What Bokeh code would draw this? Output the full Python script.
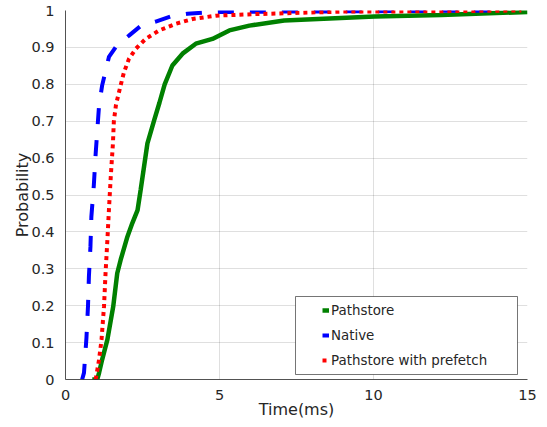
from bokeh.plotting import figure
from bokeh.models import (Range1d, FixedTicker, CustomJSTickFormatter, Legend,
                          LegendItem, BoxAnnotation)
from bokeh.embed import file_html
from bokeh.resources import INLINE

# ---- data ----
native_t = [0.54, 0.60, 0.68, 0.73, 0.76, 0.81, 0.84, 0.92, 0.98, 1.09, 1.19,
            1.41, 1.68, 2.06, 2.44, 2.93, 3.42, 3.96, 4.45, 5.0, 7.0, 10.0, 14.2]
native_p = [0.0, 0.018, 0.113, 0.198, 0.279, 0.36, 0.441, 0.527, 0.613, 0.743, 0.797,
            0.874, 0.907, 0.932, 0.958, 0.970, 0.984, 0.991, 0.994, 0.996, 0.997, 0.998, 1.0]

prefetch_t = [0.98, 1.09, 1.17, 1.25, 1.30, 1.36, 1.41, 1.47, 1.54, 1.57, 1.64, 1.79,
              1.90, 2.06, 2.28, 2.6, 3.04, 3.58, 4.13, 4.89, 6.08, 8.96, 12.0, 14.8]
prefetch_p = [0.0, 0.054, 0.108, 0.198, 0.288, 0.378, 0.46, 0.55, 0.64, 0.70, 0.745, 0.797,
              0.833, 0.869, 0.896, 0.923, 0.946, 0.964, 0.977, 0.986, 0.99, 0.997, 0.998, 1.0]

pathstore_t = [0.87, 1.03, 1.09, 1.19, 1.36, 1.55, 1.68, 1.79, 2.01, 2.17, 2.34, 2.44,
               2.55, 2.66, 2.88, 3.05, 3.22, 3.47, 3.80, 4.23, 4.77, 5.32, 5.97, 7.1,
               10.04, 12.2, 15.0]
pathstore_p = [0.0, 0.0, 0.018, 0.054, 0.108, 0.198, 0.288, 0.324, 0.387, 0.424, 0.459, 0.514,
               0.577, 0.64, 0.703, 0.75, 0.80, 0.851, 0.883, 0.910, 0.923, 0.946, 0.959, 0.973,
               0.984, 0.988, 0.996]

x_ticks = [0, 5, 10, 15]
y_ticks = [0, 0.1, 0.2, 0.3, 0.4, 0.5, 0.6, 0.7, 0.8, 0.9, 1.0]

FONT = "DejaVu Sans"
TXT = "#262626"

p = figure(width=539, height=421, output_backend="svg", toolbar_location=None,
           x_range=Range1d(0, 15), y_range=Range1d(0, 1),
           min_border_left=65, min_border_right=12, min_border_top=10, min_border_bottom=41)
p.margin = (0, 0, 0, 0)
p.outline_line_color = None
p.background_fill_color = "white"

# curves
r_path = p.line(pathstore_t, pathstore_p, line_color="#008000", line_width=4.5)
r_nat = p.line(native_t, native_p, line_color="#0000ff", line_width=4, line_dash="16 16")
r_pre = p.line(prefetch_t, prefetch_p, line_color="#ff0000", line_width=4, line_dash="4 4")

# axes
p.xaxis.ticker = FixedTicker(ticks=x_ticks)
p.yaxis.ticker = FixedTicker(ticks=y_ticks)
p.yaxis.formatter = CustomJSTickFormatter(code="return (Math.round(tick*10)/10).toString();")
for ax in (p.xaxis[0], p.yaxis[0]):
    ax.axis_line_color = TXT
    ax.axis_line_width = 0.8
    ax.major_tick_line_color = None
    ax.minor_tick_line_color = None
    ax.major_label_text_font = FONT
    ax.major_label_text_font_size = "14.5px"
    ax.major_label_text_color = TXT
    ax.axis_label_text_font = FONT
    ax.axis_label_text_font_size = "16px"
    ax.axis_label_text_font_style = "normal"
    ax.axis_label_text_color = TXT
p.xaxis.axis_label = "Time(ms)"
p.yaxis.axis_label = "Probability"
p.xaxis.major_label_standoff = 4
p.xaxis.axis_label_standoff = -3
p.yaxis.major_label_standoff = 5
p.yaxis.axis_label_standoff = -4

for g in (p.xgrid[0], p.ygrid[0]):
    g.grid_line_color = TXT
    g.grid_line_alpha = 0.15
    g.grid_line_width = 1

# legend frame
box = BoxAnnotation(left=295, right=517, top=296, bottom=374,
                    left_units="canvas", right_units="canvas",
                    top_units="canvas", bottom_units="canvas",
                    fill_color="white", fill_alpha=1.0,
                    line_color=TXT, line_width=0.8, line_alpha=0.8)
p.add_layout(box)

legend = Legend(items=[LegendItem(label="Pathstore", renderers=[r_path]),
                       LegendItem(label="Native", renderers=[r_nat]),
                       LegendItem(label="Pathstore with prefetch", renderers=[r_pre])],
                location=(257, 9), margin=0, padding=0, spacing=5,
                glyph_width=7, glyph_height=20, label_height=20, label_standoff=2,
                label_text_font=FONT, label_text_font_size="13.4px",
                label_text_color=TXT, border_line_color=None,
                background_fill_alpha=0.0)
p.add_layout(legend, "center")

open("out.html", "w").write(file_html(p, INLINE))
